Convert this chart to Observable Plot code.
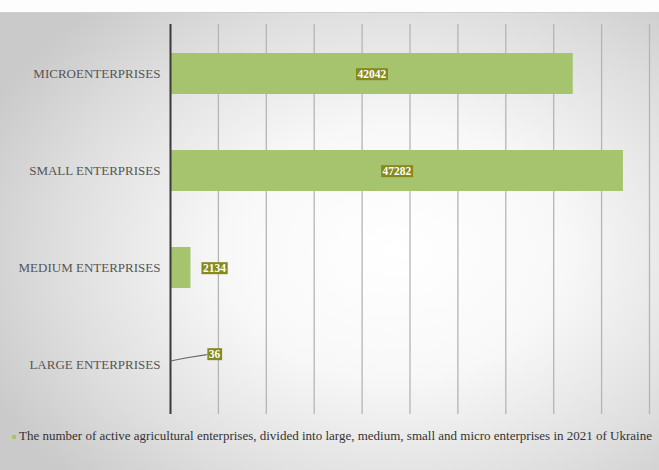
<!DOCTYPE html>
<html><head><meta charset="utf-8">
<script src="https://cdn.jsdelivr.net/npm/d3@7"></script>
<script src="https://cdn.jsdelivr.net/npm/@observablehq/plot@0.6"></script>
<style>
body{margin:0;background:#fff;}
#wrap{position:relative;width:659px;height:470px;overflow:hidden;background:#fdfdfd;}
#bg{position:absolute;left:0;top:12px;width:659px;height:458px;
 background:radial-gradient(ellipse 68% 72% at 60% 52%, #ffffff 0%, #f8f8f8 38%, #dedede 75%, #cacaca 100%);
 border-top:1px solid #cfcfcf;}
#chart{position:absolute;left:0;top:0;}
#legend{position:absolute;left:12px;top:428px;font-size:13px;font-family:"Liberation Serif","DejaVu Serif","Times New Roman",serif;color:#333;white-space:nowrap;}
#legend .sw{display:inline-block;width:4px;height:4px;background:#a6c46e;margin-right:3px;vertical-align:middle;}
</style></head>
<body><div id="wrap"><div id="bg"></div><div id="chart"></div><div id="legend"></div></div>
<script>
const categories = ["MICROENTERPRISES", "SMALL ENTERPRISES", "MEDIUM ENTERPRISES", "LARGE ENTERPRISES"];
const values = [42042, 47282, 2134, 36];
const xTicks = [0, 5000, 10000, 15000, 20000, 25000, 30000, 35000, 40000, 45000, 50000];
const legendLabel = "The number of active agricultural enterprises, divided into large, medium, small and micro enterprises in 2021  of Ukraine";

const data = categories.map((c, i) => ({category: c, value: values[i]}));
const insideLabels = data.filter(d => d.value > 10000);
const mediumLabel = data.filter(d => d.category === "MEDIUM ENTERPRISES");
const largeLabel = data.filter(d => d.category === "LARGE ENTERPRISES");

const barColor = "#a6c46e";
const boxColor = "#868a1c";
const serif = "'Liberation Serif', 'DejaVu Serif', 'Times New Roman', serif";
const largeDx = 38, largeDy = -11;

const chart = Plot.plot({
  width: 659,
  height: 418,
  marginLeft: 170,
  marginRight: 10,
  marginTop: 24,
  marginBottom: 4,
  style: {background: "transparent", fontFamily: serif, fontSize: "13px", color: "#555"},
  x: {domain: [0, 50000], axis: null},
  y: {domain: categories, paddingInner: 0.58, paddingOuter: 0.29, label: null},
  marks: [
    Plot.ruleX(xTicks.slice(1), {stroke: "#b5b5b5", strokeWidth: 1.3}),
    Plot.barX(data, {x: "value", y: "category", fill: barColor}),
    Plot.ruleX([0], {stroke: "#3a3a3a", strokeWidth: 2}),
    Plot.axisY({tickSize: 0, tickPadding: 10, label: null, fontSize: 13, fill: "#555", fontFamily: serif}),
    Plot.text(insideLabels, {x: d => d.value / 2, y: "category", text: d => String(d.value), fill: "white", fontWeight: "bold", fontSize: 11.5, fontFamily: serif}),
    Plot.text(mediumLabel, {x: "value", y: "category", text: d => String(d.value), fill: "white", fontWeight: "bold", fontSize: 11.5, fontFamily: serif, textAnchor: "start", dx: 12}),
    Plot.text(largeLabel, {x: "value", y: "category", text: d => String(d.value), fill: "white", fontWeight: "bold", fontSize: 11.5, fontFamily: serif, textAnchor: "start", dx: largeDx, dy: largeDy})
  ]
});
document.getElementById("chart").append(chart);

const ns = "http://www.w3.org/2000/svg";
function textBox(t) {
  const b = t.getBBox();
  let tx = 0, ty = 0;
  const tl = t.transform && t.transform.baseVal;
  if (tl && tl.numberOfItems) { const m = tl.consolidate().matrix; tx = m.e; ty = m.f; }
  return {x: b.x + tx, y: b.y + ty, width: b.width, height: b.height};
}
chart.querySelectorAll('g[aria-label="text"] text').forEach(t => {
  const b = textBox(t);
  const r = document.createElementNS(ns, "rect");
  r.setAttribute("x", b.x - 1.5);
  r.setAttribute("y", b.y + 0.5);
  r.setAttribute("width", b.width + 3);
  r.setAttribute("height", b.height);
  r.setAttribute("fill", boxColor);
  t.parentNode.insertBefore(r, t);
});

// leader line for the "LARGE" label, from the axis to its box
const xs = chart.scale("x"), ys = chart.scale("y");
const groups = chart.querySelectorAll('g[aria-label="text"]');
const largeGroup = groups[groups.length - 1];
const lb = textBox(largeGroup.querySelector("text"));
const x0 = xs.apply(0) - largeDx, y0 = ys.apply("LARGE ENTERPRISES") - 4 - largeDy;
const x1 = lb.x - 2, y1 = lb.y + lb.height / 2 + 1;
const path = document.createElementNS(ns, "path");
path.setAttribute("d", `M${x0},${y0}L${x0 + 15},${y0 - 3}L${x1},${y1}`);
path.setAttribute("stroke", "#666");
path.setAttribute("stroke-width", 1.2);
path.setAttribute("fill", "none");
largeGroup.insertBefore(path, largeGroup.firstChild);

const lg = document.getElementById("legend");
const sw = document.createElement("span"); sw.className = "sw";
lg.append(sw, document.createTextNode(legendLabel));
</script>
</body></html>
